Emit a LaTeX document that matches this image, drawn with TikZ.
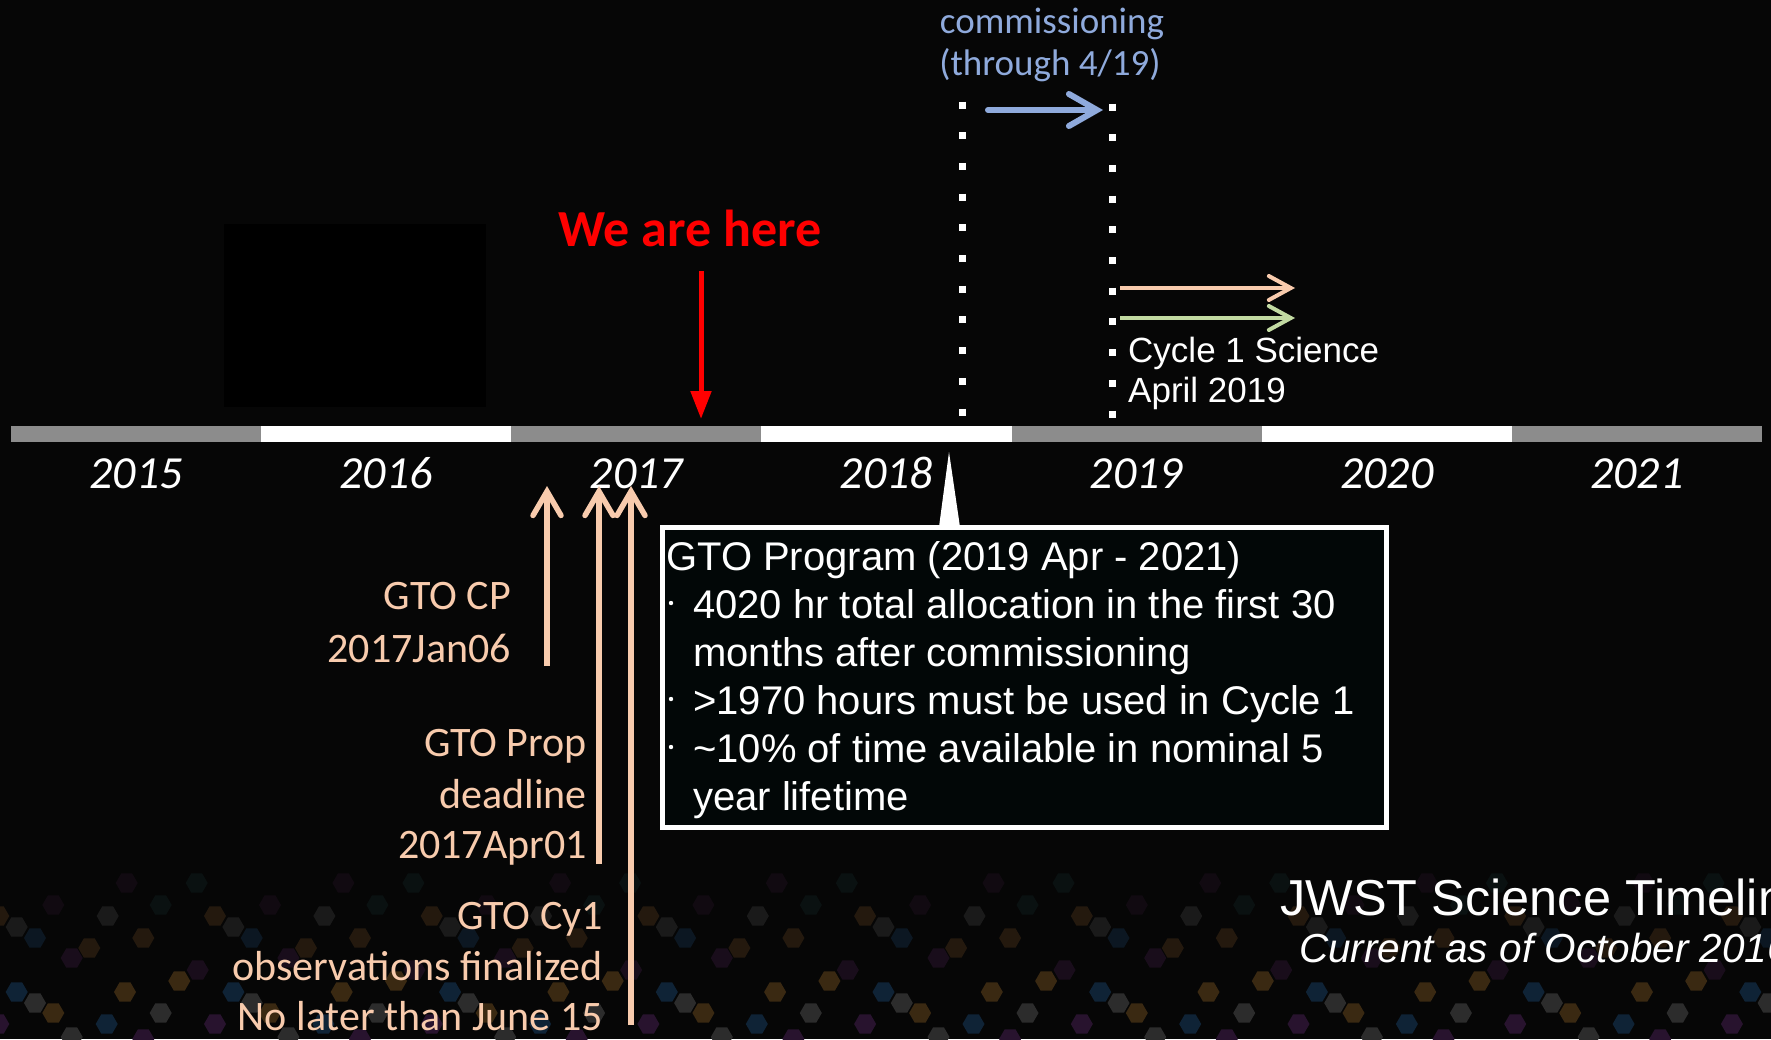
\documentclass[tikz,border=0pt]{standalone}
\usepackage{fontspec}
\setmainfont{Carlito}
\newfontfamily\arialf{Liberation Sans}
\usetikzlibrary{arrows.meta}

\definecolor{bg}{HTML}{060606}
\definecolor{bargray}{HTML}{8C8C8C}
\definecolor{peach}{HTML}{F8CBAD}
\definecolor{sage}{HTML}{C2DAA2}
\definecolor{steel}{HTML}{8FAADC}
\definecolor{alertred}{HTML}{FF0000}
\definecolor{boxfill}{HTML}{020707}
% honeycomb tints
\definecolor{hxbrownM}{HTML}{3A2912}
\definecolor{hxgrayM}{HTML}{2C2C2C}
\definecolor{hxblueM}{HTML}{0F2336}
\definecolor{hxpurpM}{HTML}{28132E}
\definecolor{hxbrownD}{HTML}{24190E}
\definecolor{hxgrayD}{HTML}{1A1A1A}
\definecolor{hxblueD}{HTML}{0C1722}
\definecolor{hxpurpD}{HTML}{190D1B}
\definecolor{hxpurpV}{HTML}{110A11}
\definecolor{hxtealV}{HTML}{0A1111}

\tikzset{
  yearlbl/.style={font=\fontsize{46}{55}\selectfont\itshape, text=white, anchor=base, inner sep=0pt},
  peachlbl/.style={font=\fontsize{42}{50}\selectfont, text=peach, anchor=base east, inner sep=0pt},
  boxline/.style={font=\arialf\fontsize{40}{48}\selectfont, text=white, anchor=base west, inner sep=0pt},
  cyclelbl/.style={font=\arialf\fontsize{35}{42}\selectfont, text=white, anchor=base west, inner sep=0pt},
  commlbl/.style={font=\fontsize{37}{42}\selectfont, text=steel, anchor=base, inner sep=0pt},
  uparrow/.style={draw=peach, line width=5.5pt, -{Straight Barb[length=24pt,width=28pt,line cap=round]}},
  dotcol/.style={draw=white, line width=7pt, dash pattern=on 7pt off 23.7pt},
  hexcell/.pic={\fill[#1] (0:11) -- (60:11) -- (120:11) -- (180:11) -- (240:11) -- (300:11) -- cycle;},
}

\begin{document}
\begin{tikzpicture}[x=1pt,y=-1pt]
\fill[bg] (0,0) rectangle (1771,1039);
\useasboundingbox (0,0) rectangle (1771,1039);
\begin{scope}
\clip (0,0) rectangle (1771,1039);

% honeycomb band along the bottom edge, one tile repeated across the width
\foreach \k in {0,...,8}{
  \begin{scope}[shift={(-30+\k*216.7,0)}]
    \foreach \hx/\hy/\hc in {28.3/916/hxbrownD, 46.7/927/hxgrayD, 65/938/hxblueD,
        83.3/905/hxpurpV, 101.7/958/hxpurpD, 119.3/948/hxbrownD, 137.7/916/hxgrayD,
        173.3/938/hxbrownD, 156.7/883/hxpurpV, 190.7/905/hxtealV, 10/883/hxtealV,
        209.3/981/hxbrownM, 11/970/hxpurpD, 46.7/992/hxblueM, 65/1003/hxgrayM,
        83.3/1013/hxbrownM, 155/992/hxbrownM, 190.7/1013/hxgrayM, 136.7/1024/hxblueM,
        28.3/1024/hxpurpM, 101.7/1037/hxgrayM, 173.3/1039/hxpurpM}
      \pic at (\hx,\hy) {hexcell=\hc};
  \end{scope}
}

% dark panel
\fill[black] (224,224) rectangle (486,407);

% year bar
\foreach \i in {0,...,6}{
  \pgfmathtruncatemacro{\odd}{mod(\i,2)}
  \ifnum\odd=0 \def\segc{bargray}\else\def\segc{white}\fi
  \fill[\segc] (11+\i*250.15,426) rectangle (11+\i*250.15+250.15,442);
}
\foreach \yr [count=\i from 0] in {2015,2016,2017,2018,2019,2020,2021}
  \node[yearlbl] (y\yr) at (136+\i*250.15,488) {\yr};

% we are here
\node[font=\fontsize{52}{60}\selectfont\bfseries, text=alertred, anchor=base, inner sep=0pt] (here) at (690,246) {We are here};
\coordinate (hereS) at (701,271);
\coordinate (hereE) at (701,419);
\draw[alertred, line width=5pt, -{Triangle[length=28pt,width=20pt]}] (hereS) -- (hereE);

% commissioning window
\coordinate (d1top) at (962.5,101.5);
\coordinate (d1bot) at (962.5,416);
\coordinate (d2top) at (1112,103.5);
\coordinate (d2bot) at (1112,418);
\draw[dotcol] (d1top) -- (d1bot);
\draw[dotcol] (d2top) -- (d2bot);

\node[commlbl] (comm1) at (1052,33) {commissioning};
\node[commlbl] (comm2) at (1050,75) {(through 4/19)};
\coordinate (commS) at (988,110);
\coordinate (commE) at (1103,110);
\draw[steel, line width=6pt, line cap=round, -{Straight Barb[length=28pt,width=32pt,line cap=round]}] (commS) -- (commE);

% cycle 1 science
\coordinate (gtoS) at (1120,288);
\coordinate (gtoE) at (1295,288);
\coordinate (goS) at (1120,318);
\coordinate (goE) at (1295,318);
\draw[peach, line width=4pt, -{Straight Barb[length=22pt,width=24pt,line cap=round]}] (gtoS) -- (gtoE);
\draw[sage, line width=4pt, -{Straight Barb[length=22pt,width=24pt,line cap=round]}] (goS) -- (goE);
\node[cyclelbl] (cyc1) at (1128,362) {Cycle 1 Science};
\node[cyclelbl] (cyc2) at (1128,402) {April 2019};

% GTO program callout
\node[draw=white, line width=5.5pt, fill=boxfill, minimum width=724pt, minimum height=300pt,
      anchor=north west, inner sep=0pt] (gtobox) at (659.5,524.5) {};
\coordinate (ptr) at (949,452);
\fill[white] (ptr) -- (960,527) -- (939,527) -- cycle;
\node[boxline] (h0) at (666,570) {GTO Program (2019 Apr - 2021)};
\foreach \yy in {618,714,762}
  \fill[white] (671,\yy-15) circle (2.2);
\node[boxline] (b1) at (693,618) {4020 hr total allocation in the first 30};
\node[boxline] (b1b) at (693,666) {months after commissioning};
\node[boxline] (b2) at (693,714) {>1970 hours must be used in Cycle 1};
\node[boxline] (b3) at (693,762) {{\char"7E}10\% of time available in nominal 5};
\node[boxline] (b3b) at (693,810) {year lifetime};

% GTO milestones
\coordinate (m1S) at (547,666);
\coordinate (m1E) at (547,486);
\coordinate (m2S) at (599,864);
\coordinate (m2E) at (599,486);
\coordinate (m3S) at (631,1025);
\coordinate (m3E) at (631,486);
\draw[uparrow] (m1S) -- (m1E);
\draw[uparrow] (m2S) -- (m2E);
\draw[uparrow] (m3S) -- (m3E);

\node[peachlbl] (cp1) at (511,609) {GTO CP};
\node[peachlbl] (cp2) at (511,662) {2017Jan06};
\node[peachlbl] (pr1) at (587,756) {GTO Prop};
\node[peachlbl] (pr2) at (587,808) {deadline};
\node[peachlbl] (pr3) at (587,858) {2017Apr01};
\node[peachlbl] (cy1) at (603,929) {GTO Cy1};
\node[peachlbl] (cy2) at (603,980) {observations finalized};
\node[peachlbl] (cy3) at (603,1030) {No later than June 15};

% title
\node[font=\arialf\fontsize{50.5}{58}\selectfont, text=white, anchor=base west, inner sep=0pt] (title) at (1280,915) {JWST Science Timeline};
\node[font=\arialf\fontsize{40.5}{47}\selectfont\itshape, text=white, anchor=base west, inner sep=0pt] (subtitle) at (1299,962) {Current as of October 2016};
\end{scope}
\end{tikzpicture}
\end{document}
